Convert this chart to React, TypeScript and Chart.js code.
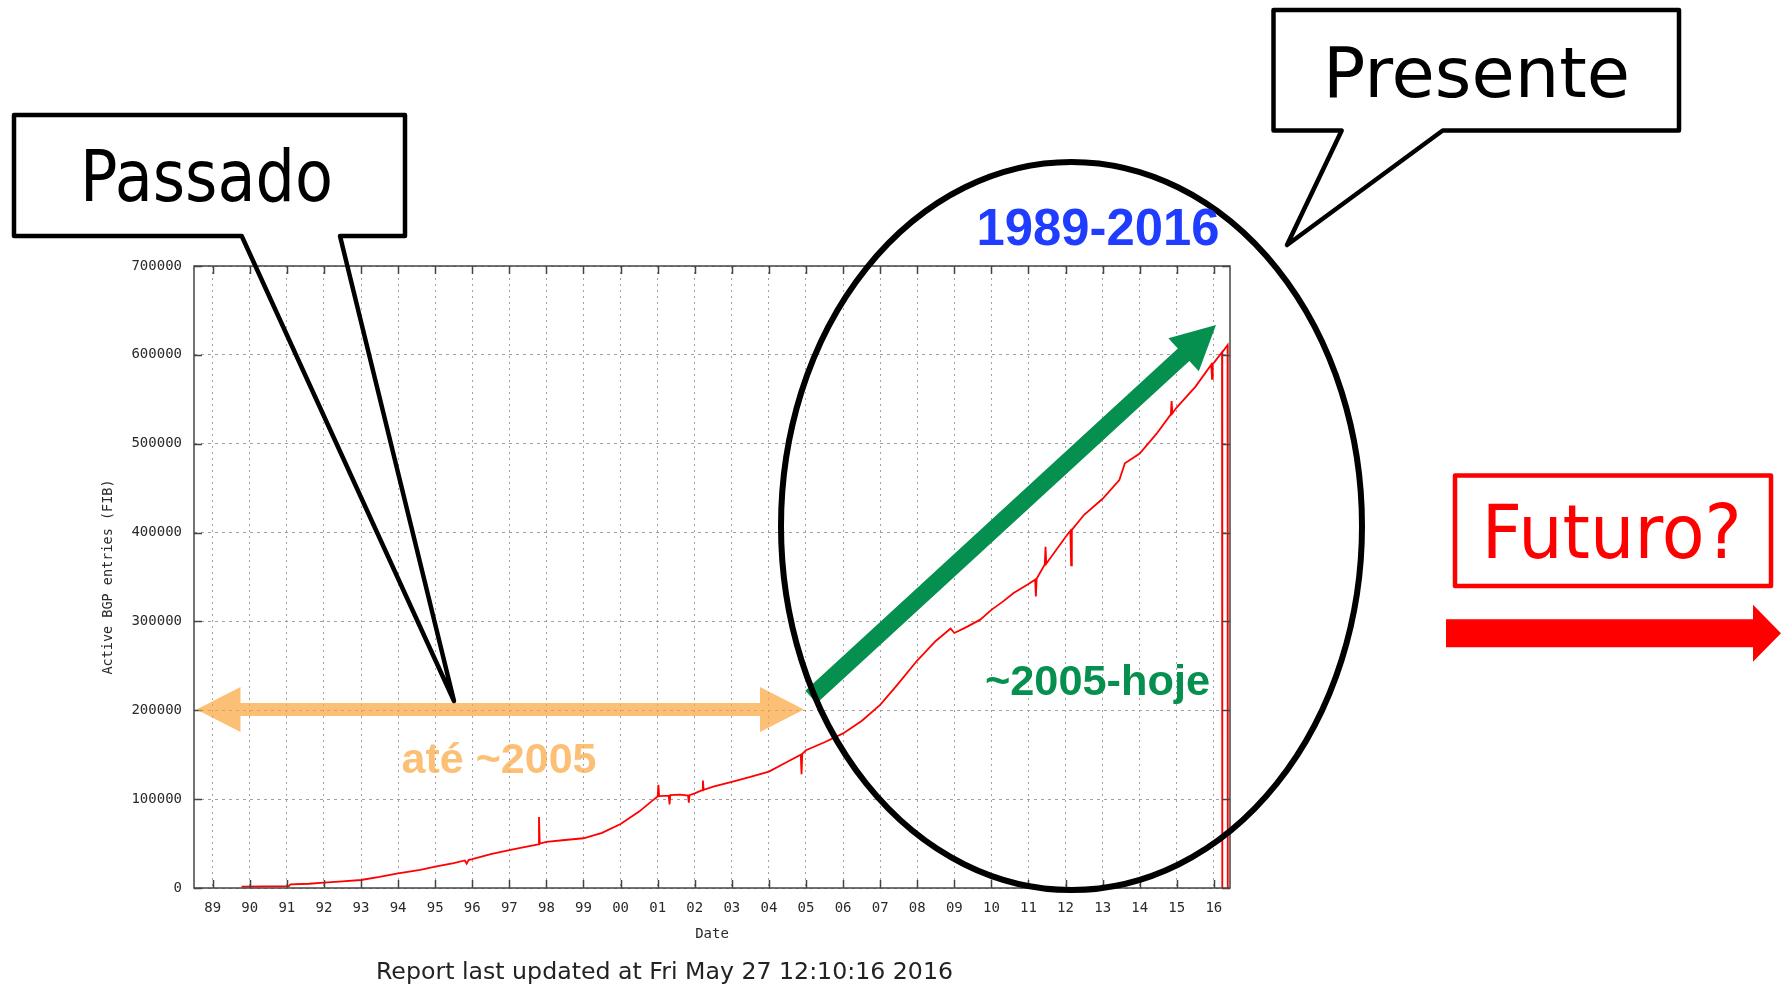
import React, { useEffect, useRef } from 'react';
import { Chart, registerables } from 'chart.js';

Chart.register(...registerables);

// ---------------- data ----------------
const YEARS = [
  1989.78, 1990.4, 1991.05, 1991.1, 1991.6, 1992.0, 1992.5, 1993.0, 1993.5, 1994.0,
  1994.3, 1994.6, 1995.0, 1995.5, 1995.8, 1995.85, 1995.9, 1996.0, 1996.5, 1997.0,
  1997.4, 1997.78, 1997.8, 1997.82, 1998.0, 1998.5, 1999.0, 1999.5, 2000.0, 2000.5,
  2000.85, 2001.0, 2001.02, 2001.04, 2001.3, 2001.32, 2001.34, 2001.6, 2001.82, 2001.84,
  2001.86, 2002.0, 2002.2, 2002.22, 2002.24, 2002.5, 2003.0, 2003.5, 2004.0, 2004.5,
  2004.86, 2004.88, 2004.9, 2005.0, 2005.5, 2006.0, 2006.5, 2007.0, 2007.45, 2008.0,
  2008.5, 2008.9, 2009.0, 2009.3, 2009.7, 2010.0, 2010.3, 2010.6, 2011.0, 2011.18,
  2011.2, 2011.22, 2011.44, 2011.46, 2011.48, 2012.0, 2012.13, 2012.15, 2012.17, 2012.5,
  2013.0, 2013.45, 2013.6, 2014.0, 2014.45, 2014.84, 2014.86, 2014.88, 2015.0, 2015.5,
  2015.93, 2015.95, 2015.97, 2016.0, 2016.22, 2016.225, 2016.23, 2016.37, 2016.375,
];

const ENTRIES = [
  1500, 1800, 2200, 4200, 4800, 6000, 7500, 9000, 12500, 16500,
  18500, 20500, 24000, 28000, 31000, 27500, 31500, 32500, 38000, 42500,
  46000, 49000, 80000, 50000, 52000, 54000, 56000, 62000, 72000, 86000,
  98000, 103000, 116000, 103500, 104000, 94000, 104500, 105000, 104000, 96000,
  104500, 106500, 110000, 121000, 110500, 114000, 119500, 125000, 131000, 142000,
  150000, 128000, 151000, 155000, 164000, 174000, 188000, 206000, 228000, 256000,
  278000, 292000, 287000, 293000, 302000, 313000, 322000, 332000, 342000, 347000,
  328000, 348000, 364000, 384000, 365000, 395000, 402000, 363000, 403000, 420000,
  438000, 459000, 478000, 489000, 511000, 533000, 548000, 534000, 541000, 564000,
  589000, 573000, 590000, 591000, 603000, 0, 603000, 611000, 0,
];

const X_MIN = 1988.496;
const X_MAX = 2016.435;
const X_STEP = 1;
const Y_MIN = 0;
const Y_MAX = 700000;
const Y_STEP = 100000;

const Y_TITLE = 'Active BGP entries (FIB)';
const X_TITLE = 'Date';
const REPORT_TEXT = 'Report last updated at Fri May 27 12:10:16 2016';
const TXT_PASSADO = 'Passado';
const TXT_PRESENTE = 'Presente';
const TXT_FUTURO = 'Futuro?';
const TXT_ATE = 'até ~2005';
const TXT_HOJE = '~2005-hoje';
const TXT_RANGE = '1989-2016';

// ---------------- styles / layout ----------------
const W = 1781;
const H = 986;
const MONO = '"DejaVu Sans Mono", monospace';
const SANS = '"DejaVu Sans", sans-serif';
const BOLD = '"Liberation Sans", Arial, sans-serif';
const AXIS_TEXT = '#2a2a2a';
const GRID = 'rgba(130,130,130,0.75)';
const FRAME = '#444444';
const ORANGE = 'rgba(250,165,60,0.7)';
const GREEN = '#06904f';
const BLUE = '#1f3cff';
const RED = '#ff0000';

type P = { x: number; y: number };

function fitText(
  ctx: CanvasRenderingContext2D,
  text: string,
  cx: number,
  baseline: number,
  width: number,
  font: string,
  color: string,
) {
  ctx.save();
  ctx.font = font;
  ctx.fillStyle = color;
  ctx.textAlign = 'center';
  ctx.textBaseline = 'alphabetic';
  const w = ctx.measureText(text).width || 1;
  ctx.translate(cx, baseline);
  ctx.scale(width / w, 1);
  ctx.fillText(text, 0, 0);
  ctx.restore();
}

function thickArrow(
  ctx: CanvasRenderingContext2D,
  from: P,
  tip: P,
  shaft: number,
  headLen: number,
  headHalf: number,
  color: string,
) {
  const dx = tip.x - from.x;
  const dy = tip.y - from.y;
  const len = Math.hypot(dx, dy);
  const ux = dx / len;
  const uy = dy / len;
  const nx = -uy;
  const ny = ux;
  const bx = tip.x - ux * headLen;
  const by = tip.y - uy * headLen;
  const s = shaft / 2;
  ctx.save();
  ctx.fillStyle = color;
  ctx.beginPath();
  ctx.moveTo(from.x + nx * s, from.y + ny * s);
  ctx.lineTo(bx + nx * s, by + ny * s);
  ctx.lineTo(bx + nx * headHalf, by + ny * headHalf);
  ctx.lineTo(tip.x, tip.y);
  ctx.lineTo(bx - nx * headHalf, by - ny * headHalf);
  ctx.lineTo(bx - nx * s, by - ny * s);
  ctx.lineTo(from.x - nx * s, from.y - ny * s);
  ctx.closePath();
  ctx.fill();
  ctx.restore();
}

function doubleArrow(
  ctx: CanvasRenderingContext2D,
  x1: number,
  x2: number,
  y: number,
  shaft: number,
  headLen: number,
  headHalf: number,
  color: string,
) {
  const s = shaft / 2;
  ctx.save();
  ctx.fillStyle = color;
  ctx.beginPath();
  ctx.moveTo(x1, y);
  ctx.lineTo(x1 + headLen, y - headHalf);
  ctx.lineTo(x1 + headLen, y - s);
  ctx.lineTo(x2 - headLen, y - s);
  ctx.lineTo(x2 - headLen, y - headHalf);
  ctx.lineTo(x2, y);
  ctx.lineTo(x2 - headLen, y + headHalf);
  ctx.lineTo(x2 - headLen, y + s);
  ctx.lineTo(x1 + headLen, y + s);
  ctx.lineTo(x1 + headLen, y + headHalf);
  ctx.closePath();
  ctx.fill();
  ctx.restore();
}

function callout(
  ctx: CanvasRenderingContext2D,
  box: [number, number, number, number],
  tailA: number,
  tailB: number,
  tip: P,
  lw: number,
) {
  const [x1, y1, x2, y2] = box;
  ctx.save();
  ctx.fillStyle = '#ffffff';
  ctx.fillRect(x1, y1, x2 - x1, y2 - y1);
  ctx.strokeStyle = '#000000';
  ctx.lineWidth = lw;
  ctx.lineJoin = 'round';
  ctx.lineCap = 'round';
  ctx.beginPath();
  ctx.moveTo(tailA, y2);
  ctx.lineTo(x1, y2);
  ctx.lineTo(x1, y1);
  ctx.lineTo(x2, y1);
  ctx.lineTo(x2, y2);
  ctx.lineTo(tailB, y2);
  ctx.lineTo(tip.x, tip.y);
  ctx.closePath();
  ctx.stroke();
  ctx.restore();
}

const overlayPlugin = {
  id: 'overlay',
  afterDraw(chart: any) {
    const ctx: CanvasRenderingContext2D = chart.ctx;
    const a = chart.chartArea;
    const xs = chart.scales.x;
    const ys = chart.scales.y;

    // frame + inward mirrored ticks (gnuplot style)
    ctx.save();
    ctx.strokeStyle = FRAME;
    ctx.lineWidth = 1.5;
    ctx.strokeRect(a.left, a.top, a.right - a.left, a.bottom - a.top);
    ctx.beginPath();
    xs.ticks.forEach((t: any) => {
      const px = Math.round(xs.getPixelForValue(t.value)) + 0.5;
      ctx.moveTo(px, a.bottom);
      ctx.lineTo(px, a.bottom - 8);
      ctx.moveTo(px, a.top);
      ctx.lineTo(px, a.top + 8);
    });
    ys.ticks.forEach((t: any) => {
      const py = Math.round(ys.getPixelForValue(t.value)) + 0.5;
      ctx.moveTo(a.left, py);
      ctx.lineTo(a.left + 8, py);
      ctx.moveTo(a.right, py);
      ctx.lineTo(a.right - 8, py);
    });
    ctx.stroke();
    ctx.restore();

    // orange double arrow + label
    doubleArrow(ctx, 196.5, 804, 709.5, 13, 44, 22.5, ORANGE);
    fitText(ctx, TXT_ATE, 499, 773, 195, `bold 42px ${BOLD}`, ORANGE);

    // green arrow
    thickArrow(ctx, { x: 811, y: 697 }, { x: 1216, y: 325 }, 17, 44, 22.5, GREEN);

    // ellipse
    ctx.save();
    ctx.strokeStyle = '#000000';
    ctx.lineWidth = 6;
    ctx.beginPath();
    ctx.ellipse(1071.5, 526, 290.5, 364, 0, 0, Math.PI * 2);
    ctx.stroke();
    ctx.restore();

    fitText(ctx, TXT_HOJE, 1097.5, 695, 225, `bold 42px ${BOLD}`, GREEN);
    fitText(ctx, TXT_RANGE, 1098, 245, 243, `bold 51px ${BOLD}`, BLUE);

    // callouts
    callout(ctx, [14, 115, 405, 236], 241.7, 340, { x: 454, y: 701 }, 4.5);
    fitText(ctx, TXT_PASSADO, 206.5, 201, 253, `72px ${SANS}`, '#000000');

    callout(ctx, [1273.5, 10, 1679, 130.5], 1341.7, 1442.7, { x: 1287, y: 245 }, 4.5);
    fitText(ctx, TXT_PRESENTE, 1476.5, 97, 307, `69px ${SANS}`, '#000000');

    // futuro box
    ctx.save();
    ctx.strokeStyle = RED;
    ctx.lineWidth = 4.5;
    ctx.lineJoin = 'round';
    ctx.strokeRect(1455, 475.5, 316, 110.5);
    ctx.restore();
    fitText(ctx, TXT_FUTURO, 1611.7, 558, 260, `74px ${SANS}`, RED);

    // red arrow
    thickArrow(ctx, { x: 1446, y: 633.3 }, { x: 1781, y: 633.3 }, 28, 28, 28.5, RED);

    // report text
    fitText(ctx, REPORT_TEXT, 664.5, 979, 577, `23.5px ${SANS}`, '#222222');
  },
};

export default function App() {
  const ref = useRef<HTMLCanvasElement | null>(null);

  useEffect(() => {
    if (!ref.current) return;
    const points = YEARS.map((x, i) => ({ x, y: ENTRIES[i] }));
    const chart = new Chart(ref.current, {
      type: 'line',
      data: {
        datasets: [
          {
            data: points,
            borderColor: RED,
            borderWidth: 1.8,
            pointRadius: 0,
            tension: 0,
            fill: false,
          },
        ],
      },
      options: {
        animation: false,
        responsive: false,
        devicePixelRatio: 1,
        layout: { padding: { left: 94, top: 266, right: W - 1230, bottom: 38 } },
        plugins: {
          legend: { display: false },
          tooltip: { enabled: false },
          title: { display: false },
        },
        scales: {
          x: {
            type: 'linear',
            min: X_MIN,
            max: X_MAX,
            afterFit: (s: any) => {
              s.height = 60;
            },
            ticks: {
              stepSize: X_STEP,
              includeBounds: false,
              autoSkip: false,
              maxRotation: 0,
              minRotation: 0,
              padding: 12,
              color: AXIS_TEXT,
              font: { family: MONO, size: 14 },
              callback: (v: any) => String(Math.round(Number(v)) % 100).padStart(2, '0'),
            },
            grid: { color: GRID, lineWidth: 1, drawTicks: false },
            border: { display: false, dash: [2, 4] },
            title: {
              display: true,
              text: X_TITLE,
              color: AXIS_TEXT,
              font: { family: MONO, size: 14 },
              padding: { top: 0, bottom: 5.6 },
            },
          },
          y: {
            type: 'linear',
            min: Y_MIN,
            max: Y_MAX,
            afterFit: (s: any) => {
              s.width = 100;
            },
            ticks: {
              stepSize: Y_STEP,
              padding: 12,
              color: AXIS_TEXT,
              font: { family: MONO, size: 14 },
              callback: (v: any) => String(v),
            },
            grid: { color: GRID, lineWidth: 1, drawTicks: false },
            border: { display: false, dash: [3, 4] },
            title: {
              display: true,
              text: Y_TITLE,
              color: AXIS_TEXT,
              font: { family: MONO, size: 13.5 },
              padding: { top: 5.9, bottom: 0 },
            },
          },
        },
      },
      plugins: [overlayPlugin],
    } as any);
    return () => chart.destroy();
  }, []);

  return (
    <div
      style={{
        position: 'fixed',
        left: 0,
        top: 0,
        width: W,
        height: H,
        background: '#ffffff',
        overflow: 'hidden',
      }}
    >
      <canvas ref={ref} width={W} height={H} style={{ display: 'block', width: W, height: H }} />
    </div>
  );
}
